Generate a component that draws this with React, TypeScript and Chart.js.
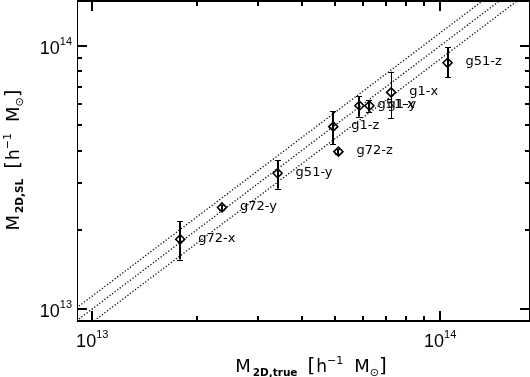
import React, { useEffect, useRef } from "react";
import { Chart, registerables } from "chart.js";

Chart.register(...registerables);

// ---- data ----
const groupNames = ["g72-x", "g72-y", "g51-y", "g1-z", "g72-z", "g51-x", "g1-y", "g1-x", "g51-z"];
const massTrue = [1.79e13, 2.36e13, 3.41e13, 4.93e13, 5.1e13, 5.86e13, 6.26e13, 7.23e13, 1.05e14];
const massSL = [1.84e13, 2.43e13, 3.28e13, 4.93e13, 3.96e13, 5.92e13, 5.92e13, 6.65e13, 8.62e13];
const massSLLow = [1.54e13, 2.37e13, 2.86e13, 4.22e13, 3.87e13, 5.37e13, 5.62e13, 5.3e13, 7.59e13];
const massSLHigh = [2.15e13, 2.49e13, 3.68e13, 5.65e13, 4.05e13, 6.44e13, 6.22e13, 7.97e13, 9.86e13];

// reference lines y = k x
const lineX = [8e12, 2e14];
const lineRatios = [1.12, 1.0, 0.89];

const xMin = 9.04e12;
const xMax = 1.8e14;
const yMin = 9.0e12;
const yMax = 1.48e14;

const majorTicks = [1e13, 1e14];
const minorMultipliers = [2, 3, 4, 5, 6, 7, 8, 9];
const tickExponents = ["13", "14"];

type Seg = { t?: string; size?: number; dy?: number; bold?: boolean; gap?: number; fam?: string };

function segFont(s: Seg) {
  return `${s.bold ? "bold " : ""}${s.size || 18}px ${s.fam || '"DejaVu Sans"'}`;
}
function richWidth(ctx: CanvasRenderingContext2D, segs: Seg[]) {
  let w = 0;
  for (const s of segs) {
    if (s.gap != null) { w += s.gap; continue; }
    ctx.font = segFont(s);
    w += ctx.measureText(s.t || "").width;
  }
  return w;
}
function drawRich(ctx: CanvasRenderingContext2D, segs: Seg[], x: number, y: number) {
  let cx = x;
  ctx.textBaseline = "alphabetic";
  ctx.textAlign = "left";
  for (const s of segs) {
    if (s.gap != null) { cx += s.gap; continue; }
    ctx.font = segFont(s);
    ctx.fillText(s.t || "", cx, y + (s.dy || 0));
    cx += ctx.measureText(s.t || "").width;
  }
}

const thinErrorBars = new Set(["g1-x"]);

const overlayPlugin = {
  id: "overlay",
  beforeDatasetsDraw(chart: any) {
    const ctx: CanvasRenderingContext2D = chart.ctx;
    const xs = chart.scales.x;
    const ys = chart.scales.y;
    ctx.save();
    ctx.strokeStyle = "#000";
    for (let i = 0; i < massTrue.length; i++) {
      const px = Math.round(xs.getPixelForValue(massTrue[i]));
      const pl = ys.getPixelForValue(massSLLow[i]);
      const ph = ys.getPixelForValue(massSLHigh[i]);
      const lw = thinErrorBars.has(groupNames[i]) ? 1 : 2;
      ctx.lineWidth = lw;
      const off = lw === 1 ? 0.5 : 0;
      ctx.beginPath();
      ctx.moveTo(px + off, pl);
      ctx.lineTo(px + off, ph);
      ctx.stroke();
      ctx.lineWidth = 1;
      ctx.beginPath();
      ctx.moveTo(px - 3, Math.round(pl) + 0.5);
      ctx.lineTo(px + 3, Math.round(pl) + 0.5);
      ctx.moveTo(px - 3, Math.round(ph) + 0.5);
      ctx.lineTo(px + 3, Math.round(ph) + 0.5);
      ctx.stroke();
    }
    ctx.restore();
  },
  afterDraw(chart: any) {
    const ctx: CanvasRenderingContext2D = chart.ctx;
    const xs = chart.scales.x;
    const ys = chart.scales.y;
    const a = chart.chartArea;
    ctx.save();
    ctx.fillStyle = "#000";
    ctx.strokeStyle = "#000";

    // point labels
    ctx.font = '13px "DejaVu Sans"';
    ctx.textBaseline = "middle";
    ctx.textAlign = "left";
    for (let i = 0; i < massTrue.length; i++) {
      const px = xs.getPixelForValue(massTrue[i]);
      const py = ys.getPixelForValue(massSL[i]);
      ctx.fillText(groupNames[i], px + 18, py - 1);
    }

    // frame
    ctx.lineWidth = 1;
    ctx.beginPath();
    ctx.moveTo(a.left + 0.5, a.top);
    ctx.lineTo(a.left + 0.5, a.bottom);
    ctx.moveTo(a.right + 0.5, a.top);
    ctx.lineTo(a.right + 0.5, a.bottom);
    ctx.stroke();
    ctx.lineWidth = 2;
    ctx.beginPath();
    ctx.moveTo(a.left, a.bottom);
    ctx.lineTo(a.right + 1, a.bottom);
    ctx.moveTo(a.left, a.top);
    ctx.lineTo(a.right + 1, a.top);
    ctx.stroke();

    // ticks
    const tickVals: { v: number; major: boolean }[] = [];
    for (const d of majorTicks) {
      tickVals.push({ v: d, major: true });
      for (const m of minorMultipliers) tickVals.push({ v: d * m, major: false });
    }
    ctx.lineWidth = 2;
    ctx.beginPath();
    for (const t of tickVals) {
      const len = t.major ? 10 : 5;
      if (t.v > xMin && t.v < xMax) {
        const px = Math.round(xs.getPixelForValue(t.v));
        ctx.moveTo(px, a.bottom);
        ctx.lineTo(px, a.bottom - len);
        ctx.moveTo(px, a.top);
        ctx.lineTo(px, a.top + len);
      }
      if (t.v > yMin && t.v < yMax) {
        const py = Math.round(ys.getPixelForValue(t.v));
        ctx.moveTo(a.left, py);
        ctx.lineTo(a.left + len, py);
        ctx.moveTo(a.right + 1, py);
        ctx.lineTo(a.right + 1 - len, py);
      }
    }
    ctx.stroke();

    // tick labels
    const fam = '"Liberation Sans"';
    majorTicks.forEach((v, i) => {
      const segs: Seg[] = [
        { t: "10", size: 18, fam },
        { t: tickExponents[i], size: 11, dy: -9, fam },
      ];
      const w = richWidth(ctx, segs);
      const px = xs.getPixelForValue(v);
      drawRich(ctx, segs, px - w / 2, 347);
      const py = ys.getPixelForValue(v);
      drawRich(ctx, segs, 72 - w, py + 8.5);
    });

    // axis titles
    const xTitle: Seg[] = [
      { t: "M", size: 18 },
      { gap: 2 },
      { t: "2D,true", size: 10.5, bold: true, dy: 4 },
      { gap: 10 },
      { t: "[", size: 20 },
      { gap: 1 },
      { t: "h", size: 17 },
      { t: "\u22121", size: 11, dy: -8 },
      { gap: 11 },
      { t: "M", size: 18 },
      { t: "\u2299", size: 11, dy: 4 },
      { t: "]", size: 20 },
    ];
    const wx = richWidth(ctx, xTitle);
    drawRich(ctx, xTitle, 311 - wx / 2, 372);

    const yTitle: Seg[] = [
      { t: "M", size: 18 },
      { gap: 2 },
      { t: "2D,SL", size: 10.5, bold: true, dy: 4 },
      { gap: 10 },
      { t: "[", size: 20 },
      { gap: 1 },
      { t: "h", size: 17 },
      { t: "\u22121", size: 11, dy: -8 },
      { gap: 11 },
      { t: "M", size: 18 },
      { t: "\u2299", size: 11, dy: 4 },
      { t: "]", size: 20 },
    ];
    const wy = richWidth(ctx, yTitle);
    ctx.translate(19, 160);
    ctx.rotate(-Math.PI / 2);
    drawRich(ctx, yTitle, -wy / 2, 0);
    ctx.restore();
  },
};

export default function App() {
  const canvasRef = useRef<HTMLCanvasElement | null>(null);
  useEffect(() => {
    const canvas = canvasRef.current;
    if (!canvas) return;
    const lineSets = lineRatios.map((k) => ({
      type: "line" as const,
      data: lineX.map((x) => ({ x, y: x * k })),
      borderColor: "#000",
      borderWidth: 1.3,
      borderDash: [1.2, 2],
      pointRadius: 0,
      showLine: true,
      fill: false,
    }));
    const chart = new Chart(canvas, {
      type: "scatter",
      data: {
        datasets: [
          ...lineSets,
          {
            data: massTrue.map((x, i) => ({ x, y: massSL[i] })),
            pointStyle: "rectRot",
            pointRadius: 4.5,
            borderColor: "#000",
            borderWidth: 1.6,
            backgroundColor: "rgba(0,0,0,0)",
          } as any,
        ],
      },
      options: {
        responsive: false,
        animation: false,
        devicePixelRatio: 1,
        layout: { autoPadding: false, padding: { left: 77, right: 1, top: 1, bottom: 56 } },
        scales: {
          x: { type: "logarithmic", min: xMin, max: xMax, display: false },
          y: { type: "logarithmic", min: yMin, max: yMax, display: false },
        },
        plugins: { legend: { display: false }, tooltip: { enabled: false } },
      } as any,
      plugins: [overlayPlugin],
    });
    return () => chart.destroy();
  }, []);
  return (
    <div style={{ position: "fixed", left: 0, top: 0, width: 530, height: 377, background: "#fff" }}>
      <canvas ref={canvasRef} width={530} height={377} style={{ display: "block" }} />
    </div>
  );
}
